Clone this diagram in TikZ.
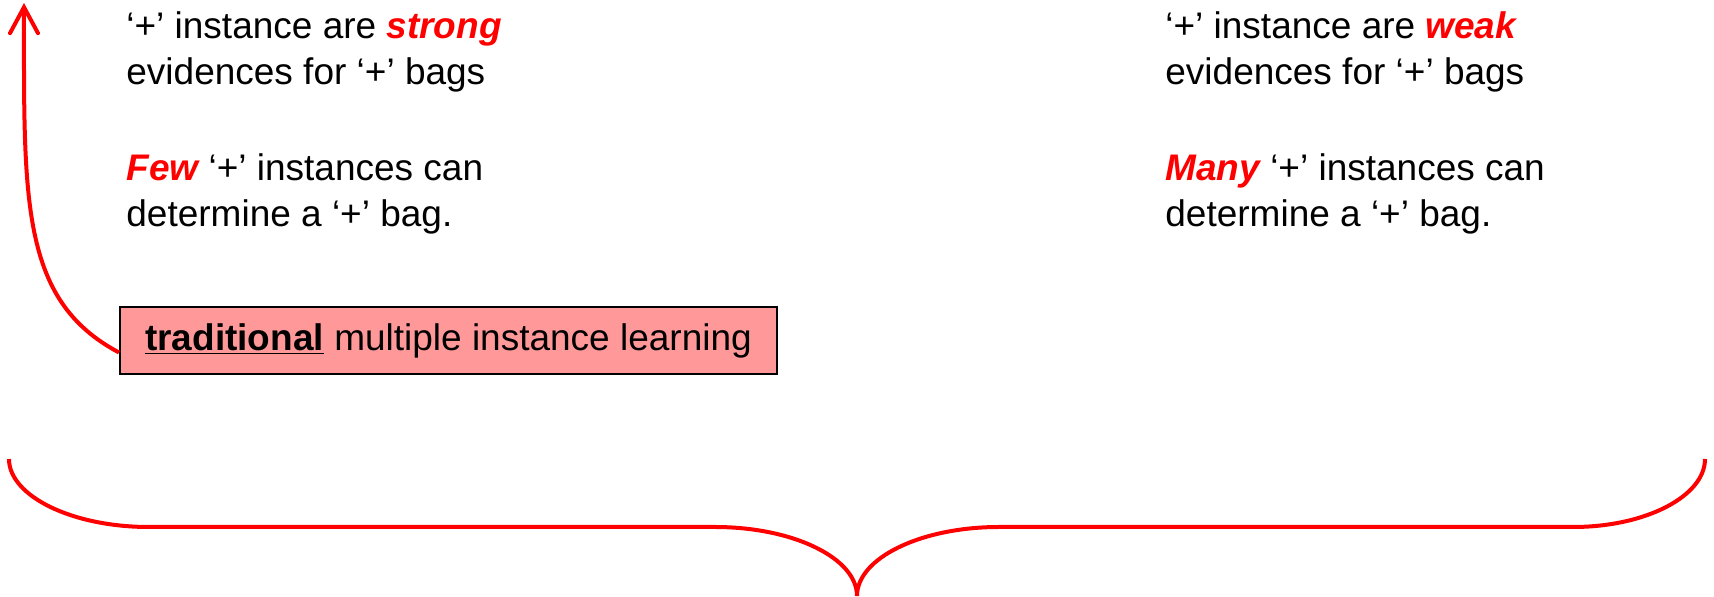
\documentclass[tikz,border=0pt]{standalone}
\usepackage{fontspec}
\setmainfont{Liberation Sans}
\usetikzlibrary{arrows.meta}
\definecolor{boxpink}{HTML}{FF9999}
\definecolor{hired}{HTML}{FF0000}
\newcommand{\hlw}[1]{{\color{hired}\bfseries\itshape #1}}
\begin{document}
\begin{tikzpicture}[x=0.5pt,y=-0.5pt,
  txt/.style={anchor=base west, inner sep=0pt, font=\fontsize{18.5pt}{22pt}\selectfont},
  mbox/.style={draw=black, line width=1pt, fill=boxpink, minimum width=328.5pt, minimum height=33.5pt, inner sep=0pt, font=\fontsize{18.5pt}{22pt}\selectfont},
  redline/.style={draw=hired, line width=2pt}]
\useasboundingbox (0,0) rectangle (1714,597);
% left text
\node[txt] (l1) at (126,39) {‘+’ instance are \hlw{strong}};
\node[txt] (l2) at (126,85) {evidences for ‘+’ bags};
\node[txt] (l3) at (126,181) {\hlw{Few} ‘+’ instances can};
\node[txt] (l4) at (126,227) {determine a ‘+’ bag.};
% right text
\node[txt] (r1) at (1165,39) {‘+’ instance are \hlw{weak}};
\node[txt] (r2) at (1165,85) {evidences for ‘+’ bags};
\node[txt] (r3) at (1165,181) {\hlw{Many} ‘+’ instances can};
\node[txt] (r4) at (1165,227) {determine a ‘+’ bag.};
% box
\node[mbox] (box) at (448.5,340.5) {\underline{\textbf{traditional}} multiple instance learning};
% arrow
\coordinate (tip) at (24,3);
\draw[redline, -{Straight Barb[length=13pt,width=14pt,line cap=round]}]
  ([yshift=-6pt]box.west) .. controls (20,300) and (24,200) .. (tip);
% brace
\draw[redline] (9,459) .. controls (9,496) and (72,527) .. (149,527) -- (715,527)
  .. controls (793,527) and (857,558) .. (857,596);
\draw[redline] (857,596) .. controls (857,558) and (921,527) .. (999,527) -- (1573,527)
  .. controls (1646,527) and (1705,496) .. (1705,459);
\end{tikzpicture}
\end{document}
